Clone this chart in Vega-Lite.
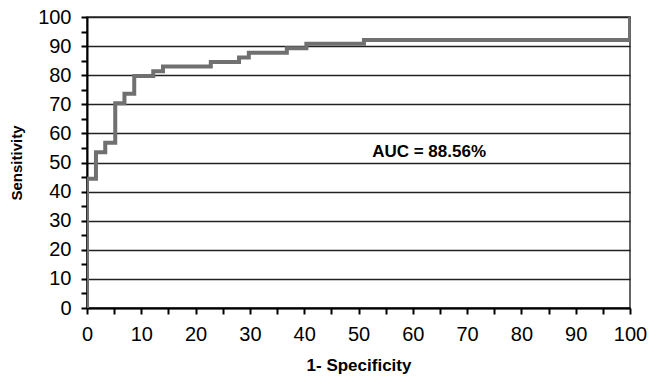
{
  "$schema": "https://vega.github.io/schema/vega-lite/v6.json",
  "width": 543,
  "height": 291,
  "autosize": {"type": "none"},
  "padding": {"left": 87, "top": 17, "right": 20, "bottom": 73},
  "background": "white",
  "config": {
    "font": "Liberation Sans",
    "view": {"stroke": "#333", "strokeWidth": 1.5}
  },
  "encoding": {
    "x": {
      "field": "fpr", "type": "quantitative",
      "scale": {"domain": [0, 100], "nice": false},
      "axis": {
        "title": "1- Specificity",
        "values": [0,5,10,15,20,25,30,35,40,45,50,55,60,65,70,75,80,85,90,95,100],
        "labelExpr": "datum.value % 10 === 0 ? datum.label : ''",
        "grid": false,
        "domainColor": "black", "domainWidth": 2,
        "tickColor": "black", "tickWidth": 2, "tickSize": 6,
        "labelFontSize": 20, "labelColor": "black", "labelPadding": 10,
        "labelFont": "Liberation Sans",
        "titleFontSize": 17, "titleFontWeight": "bold", "titleColor": "black",
        "titlePadding": 13, "titleFont": "Liberation Sans",
        "labelFlush": false, "labelOverlap": false
      }
    },
    "y": {
      "field": "sens", "type": "quantitative",
      "scale": {"domain": [0, 100], "nice": false},
      "axis": {
        "title": "Sensitivity",
        "values": [0,5,10,15,20,25,30,35,40,45,50,55,60,65,70,75,80,85,90,95,100],
        "labelExpr": "datum.value % 10 === 0 ? datum.label : ''",
        "grid": true,
        "gridColor": {"condition": {"test": "datum.value % 10 === 0", "value": "#222"}, "value": "transparent"},
        "gridWidth": 1.5,
        "domainColor": "black", "domainWidth": 2,
        "tickColor": "black", "tickWidth": 2, "tickSize": 6,
        "labelFontSize": 20, "labelColor": "black", "labelPadding": 10,
        "labelFont": "Liberation Sans",
        "titleFontSize": 15, "titleFontWeight": "bold", "titleColor": "black",
        "titlePadding": 13, "titleFont": "Liberation Sans",
        "labelFlush": false, "labelOverlap": false
      }
    }
  },
  "layer": [
    {
      "data": {
        "values": [
          {"fpr": 0, "sens": 0},
          {"fpr": 0, "sens": 44.4},
          {"fpr": 1.65, "sens": 53.5},
          {"fpr": 3.36, "sens": 56.8},
          {"fpr": 5.2, "sens": 70.4},
          {"fpr": 6.9, "sens": 73.6},
          {"fpr": 8.7, "sens": 79.7},
          {"fpr": 12.2, "sens": 81.4},
          {"fpr": 14.0, "sens": 83.0},
          {"fpr": 22.8, "sens": 84.5},
          {"fpr": 28.0, "sens": 86.1},
          {"fpr": 29.8, "sens": 87.7},
          {"fpr": 36.8, "sens": 89.3},
          {"fpr": 40.4, "sens": 90.8},
          {"fpr": 51.0, "sens": 92.1},
          {"fpr": 100, "sens": 100}
        ]
      },
      "mark": {"type": "line", "interpolate": "step-after", "color": "#707070", "strokeWidth": 4, "clip": true}
    },
    {
      "data": {"values": [{"fpr": 63, "sens": 53.6, "label": "AUC = 88.56%"}]},
      "mark": {"type": "text", "font": "Liberation Sans", "fontSize": 17, "fontWeight": "bold", "color": "black", "align": "center", "baseline": "middle"},
      "encoding": {
        "text": {"field": "label"}
      }
    }
  ]
}
